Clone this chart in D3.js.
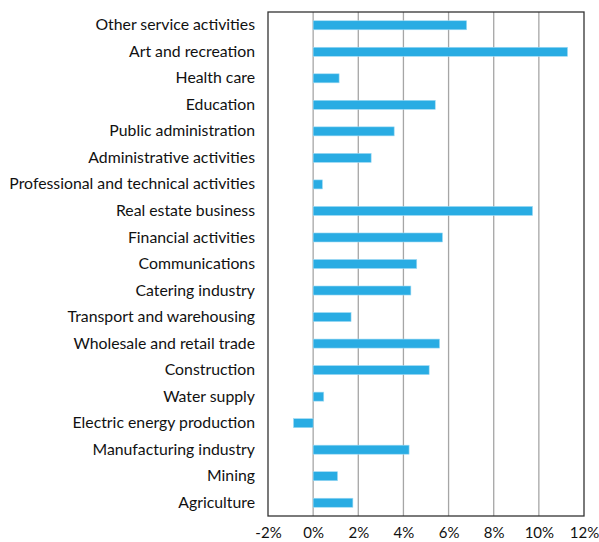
<!DOCTYPE html>
<html>
<head>
<meta charset="utf-8">
<script src="https://cdn.jsdelivr.net/npm/d3@7"></script>
<style>
  body { margin: 0; background: #fff; }
  text { font-family: Lato, "Open Sans", sans-serif; fill: #111; }
</style>
</head>
<body>
<svg id="chart"></svg>
<script>
// categories, top to bottom
const sectors = [
  "Other service activities",
  "Art and recreation",
  "Health care",
  "Education",
  "Public administration",
  "Administrative activities",
  "Professional and technical activities",
  "Real estate business",
  "Financial activities",
  "Communications",
  "Catering industry",
  "Transport and warehousing",
  "Wholesale and retail trade",
  "Construction",
  "Water supply",
  "Electric energy production",
  "Manufacturing industry",
  "Mining",
  "Agriculture"
];
// growth in percent
const growth = [6.8, 11.27, 1.15, 5.41, 3.59, 2.57, 0.41, 9.72, 5.73, 4.59, 4.33, 1.68, 5.6, 5.14, 0.47, -0.87, 4.25, 1.08, 1.76];
const xTicks = [-2, 0, 2, 4, 6, 8, 10, 12];

const data = sectors.map((s, i) => ({ sector: s, value: growth[i] }));

const svg = d3.select("#chart").attr("width", 599).attr("height", 542);
const margin = { top: 12, right: 15, bottom: 26, left: 268 };
const width = 599 - margin.left - margin.right;
const height = 542 - margin.top - margin.bottom;
const g = svg.append("g").attr("transform", `translate(${margin.left},${margin.top})`);

const x = d3.scaleLinear().domain([-2, 12]).range([0, width]);
const y = d3.scaleBand().domain(sectors).range([0, height]).paddingInner(0.66).paddingOuter(0.33);

// vertical gridlines
g.selectAll(".grid").data(xTicks.slice(1, -1)).enter().append("line")
  .attr("x1", d => x(d)).attr("x2", d => x(d))
  .attr("y1", 0).attr("y2", height)
  .attr("stroke", "#a6a6a6").attr("stroke-width", 1.3);

g.selectAll("rect").data(data).enter().append("rect")
  .attr("x", d => x(Math.min(0, d.value)))
  .attr("y", d => y(d.sector))
  .attr("width", d => Math.abs(x(d.value) - x(0)))
  .attr("height", y.bandwidth())
  .attr("fill", "#29ace3")
  .attr("stroke", "#9fdaf3").attr("stroke-width", 0.6);

// frame
g.append("rect").attr("x", 0).attr("y", 0).attr("width", width).attr("height", height)
  .attr("fill", "none").attr("stroke", "#333").attr("stroke-width", 1.3);

// x axis labels
const xAxis = g.append("g").attr("transform", `translate(0,${height})`)
  .call(d3.axisBottom(x).tickValues(xTicks).tickSize(0).tickPadding(11).tickFormat(d => d + "%"));
xAxis.select(".domain").remove();
xAxis.selectAll("text").style("font-size", "15px").attr("fill", "#111");

// y labels
const yAxis = g.append("g")
  .call(d3.axisLeft(y).tickSize(0).tickPadding(13));
yAxis.select(".domain").remove();
yAxis.selectAll("text").style("font-size", "15.8px").attr("fill", "#111");
</script>
</body>
</html>
